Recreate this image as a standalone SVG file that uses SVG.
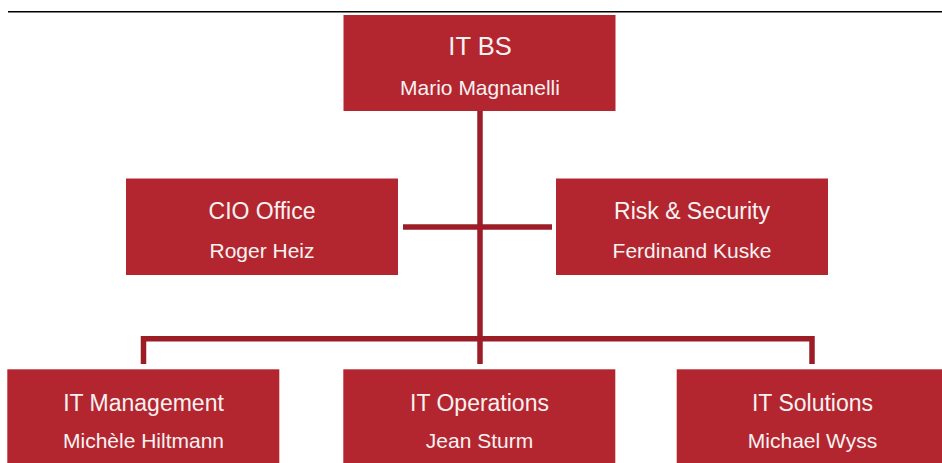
<svg xmlns="http://www.w3.org/2000/svg" width="942" height="463" viewBox="0 0 942 463">
  <style>
    .box { fill: #b4262f; }
    .title { font-family: "Liberation Sans", Arial, sans-serif; font-size: 23px; fill: #f7f2f2; text-anchor: middle; }
    .title.top { font-size: 25.5px; }
    .name { font-family: "Liberation Sans", Arial, sans-serif; font-size: 21px; fill: #f7f2f2; text-anchor: middle; }
    .link { stroke: #9c1d26; stroke-width: 5.5; fill: none; }
  </style>
  <rect width="942" height="463" fill="#ffffff"/>
  <!-- header rule -->
  <line x1="8" y1="11.7" x2="942" y2="11.7" stroke="#000000" stroke-width="1.5"/>

  <g id="connectors">
    <line class="link" x1="480" y1="111" x2="480" y2="364"/>
    <line class="link" x1="403" y1="227" x2="552" y2="227"/>
    <polyline class="link" points="143.5,364 143.5,338.7 812,338.7 812,364"/>
  </g>

  <g id="it-bs">
    <rect class="box" x="343.5" y="15" width="272" height="96"/>
    <text class="title top" x="480" y="55">IT BS</text>
    <text class="name" x="480" y="95">Mario Magnanelli</text>
  </g>

  <g id="cio-office">
    <rect class="box" x="126" y="178.5" width="272" height="96.5"/>
    <text class="title" x="262" y="219">CIO Office</text>
    <text class="name" x="262" y="257.5">Roger Heiz</text>
  </g>

  <g id="risk-security">
    <rect class="box" x="556" y="178.5" width="272" height="96.5"/>
    <text class="title" x="692" y="219">Risk &amp; Security</text>
    <text class="name" x="692" y="257.5">Ferdinand Kuske</text>
  </g>

  <g id="it-management">
    <rect class="box" x="7.3" y="369.3" width="272" height="96"/>
    <text class="title" x="143.5" y="410.5">IT Management</text>
    <text class="name" x="143.5" y="448">Michèle Hiltmann</text>
  </g>

  <g id="it-operations">
    <rect class="box" x="343.3" y="369.3" width="272" height="96"/>
    <text class="title" x="479.5" y="410.5">IT Operations</text>
    <text class="name" x="479.5" y="448">Jean Sturm</text>
  </g>

  <g id="it-solutions">
    <rect class="box" x="676.7" y="369.3" width="272" height="96"/>
    <text class="title" x="812.5" y="410.5">IT Solutions</text>
    <text class="name" x="812.5" y="448">Michael Wyss</text>
  </g>
</svg>
